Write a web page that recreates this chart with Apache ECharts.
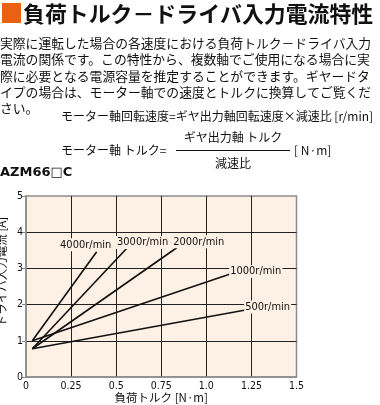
<!DOCTYPE html>
<html>
<head>
<meta charset="utf-8">
<script src="https://cdn.jsdelivr.net/npm/echarts@6/dist/echarts.min.js"></script>
<style>
html,body{margin:0;padding:0;background:#fff;}
#c{width:380px;height:405px;}
</style>
</head>
<body>
<div id="c"></div>
<script>
// ---- data ----
const speedNames = ['4000r/min', '3000r/min', '2000r/min', '1000r/min', '500r/min'];
const torque4000 = [0.035, 0.392];
const current4000 = [1.0, 3.46];
const torque3000 = [0.035, 0.558];
const current3000 = [0.78, 3.55];
const torque2000 = [0.035, 0.836];
const current2000 = [0.78, 3.57];
const torque1000 = [0.035, 1.141];
const current1000 = [1.0, 2.86];
const torque500 = [0.035, 1.218];
const current500 = [0.78, 1.85];
const xTickLabels = ['0', '0.25', '0.5', '0.75', '1.0', '1.25', '1.5'];
const yTickLabels = ['0', '1', '2', '3', '4', '5'];

const titleText = '負荷トルク－ドライバ入力電流特性';
const bodyLines = [
  '実際に運転した場合の各速度における負荷トルク－ドライバ入力',
  '電流の関係です。この特性から、複数軸でご使用になる場合に実',
  '際に必要となる電源容量を推定することができます。ギヤードタ',
  'イプの場合は、モーター軸での速度とトルクに換算してご覧くだ',
  'さい。'
];
const formula1 = 'モーター軸回転速度=ギヤ出力軸回転速度×減速比 [r/min]';
const formula2Left = 'モーター軸 トルク=';
const formula2Num = 'ギヤ出力軸 トルク';
const formula2Den = '減速比';
const formula2Unit = '[ N·m]';
const modelName = 'AZM66□C';
const xName = '負荷トルク [N·m]';
const yName = 'ドライバ入力電流 [A]';

// ---- styling ----
const JP = '"Noto Sans CJK JP", "Noto Sans", sans-serif';
const NARROW = '"Liberation Sans Narrow", "DejaVu Sans Condensed", "Liberation Sans", sans-serif';
const plotBg = '#FDF0E4';
// label centre relative to the end point of each line (pixels)
const labelOffsets = [[-11, -7], [16, -6], [22, -6], [24, -2], [22, -3]];

function pairs(xs, ys) { return xs.map((x, i) => [x, ys[i]]); }
const seriesData = [
  pairs(torque4000, current4000),
  pairs(torque3000, current3000),
  pairs(torque2000, current2000),
  pairs(torque1000, current1000),
  pairs(torque500, current500)
];

const series = seriesData.map((d, si) => ({
  type: 'line',
  name: speedNames[si],
  data: d.map((p, i) => {
    if (i === d.length - 1) {
      return {
        value: p,
        label: {
          show: true,
          formatter: speedNames[si],
          position: [0.5 + labelOffsets[si][0], 0.5 + labelOffsets[si][1]],
          align: 'center',
          verticalAlign: 'middle',
          fontFamily: NARROW,
          fontSize: 11,
          color: '#111',
          backgroundColor: plotBg,
          padding: [1, 1]
        }
      };
    }
    return p;
  }),
  symbol: 'rect',
  symbolSize: 1,
  showSymbol: true,
  itemStyle: { color: 'rgba(0,0,0,0)', borderWidth: 0 },
  lineStyle: { color: '#111', width: 1.6 },
  labelLayout: { hideOverlap: false },
  silent: true,
  animation: false,
  z: 3
}));

const graphics = [
  { type: 'rect', shape: { x: 2, y: 3, width: 19, height: 20 }, style: { fill: '#EB6114' } },
  { type: 'text', x: 23, y: 13.5, style: { text: titleText, font: 'bold 21.9px ' + JP, fill: '#111', verticalAlign: 'middle' } }
];
const lineY = [43.3, 59.6, 75.9, 92.2, 108.5];
bodyLines.forEach((t, i) => {
  graphics.push({ type: 'text', x: 0, y: lineY[i], style: { text: t, font: '12.8px ' + JP, fill: '#111', verticalAlign: 'middle' } });
});
graphics.push({ type: 'text', x: 61, y: 116, style: { text: formula1, font: '12px ' + JP, fill: '#111', verticalAlign: 'middle' } });
graphics.push({ type: 'text', x: 61, y: 150, style: { text: formula2Left, font: '12px ' + JP, fill: '#111', verticalAlign: 'middle' } });
graphics.push({ type: 'line', shape: { x1: 176, y1: 150.5, x2: 290, y2: 150.5 }, style: { stroke: '#111', lineWidth: 1 } });
graphics.push({ type: 'text', x: 233, y: 137, style: { text: formula2Num, font: '12px ' + JP, fill: '#111', verticalAlign: 'middle', align: 'center' } });
graphics.push({ type: 'text', x: 233, y: 163, style: { text: formula2Den, font: '12px ' + JP, fill: '#111', verticalAlign: 'middle', align: 'center' } });
graphics.push({ type: 'text', x: 294, y: 150, style: { text: formula2Unit, font: '12px ' + JP, fill: '#111', verticalAlign: 'middle' } });
graphics.push({ type: 'text', x: 0, y: 173, style: { text: modelName, font: 'bold 13px "DejaVu Sans", sans-serif', fill: '#111', verticalAlign: 'middle' } });

const chart = echarts.init(document.getElementById('c'), null, { renderer: 'canvas' });
chart.setOption({
  animation: false,
  backgroundColor: '#fff',
  grid: {
    left: 26, right: 83.5, top: 196, bottom: 28,
    containLabel: false, outerBoundsMode: 'none',
    show: true, backgroundColor: plotBg, borderColor: '#8c8c8c', borderWidth: 1.5
  },
  xAxis: {
    type: 'value', min: 0, max: 1.5, interval: 0.25,
    name: xName, nameLocation: 'middle', nameGap: 15, nameMoveOverlap: false,
    nameTextStyle: { fontFamily: JP, fontSize: 11.5, color: '#111' },
    axisLine: { show: true, lineStyle: { color: '#8c8c8c', width: 1.5 } },
    axisTick: { show: false },
    axisLabel: {
      margin: 4, fontFamily: NARROW, fontSize: 10.5, color: '#111',
      formatter: (v) => xTickLabels[Math.round(v / 0.25)]
    },
    splitLine: { show: true, showMinLine: false, showMaxLine: false, lineStyle: { color: '#222', width: 1 } }
  },
  yAxis: {
    type: 'value', min: 0, max: 5, interval: 1,
    name: yName, nameLocation: 'middle', nameGap: 18.5, nameRotate: 90, nameMoveOverlap: false,
    nameTextStyle: { fontFamily: JP, fontSize: 11.5, color: '#111', padding: [0, 0, 0, 30] },
    axisLine: { show: true, lineStyle: { color: '#8c8c8c', width: 1.5 } },
    axisTick: { show: true, length: 4, lineStyle: { color: '#8c8c8c' } },
    axisLabel: {
      margin: 3, fontFamily: NARROW, fontSize: 10.5, color: '#111',
      formatter: (v) => yTickLabels[Math.round(v)]
    },
    splitLine: { show: true, showMinLine: false, showMaxLine: false, lineStyle: { color: '#222', width: 1 } }
  },
  graphic: graphics,
  series: series
});
</script>
</body>
</html>
